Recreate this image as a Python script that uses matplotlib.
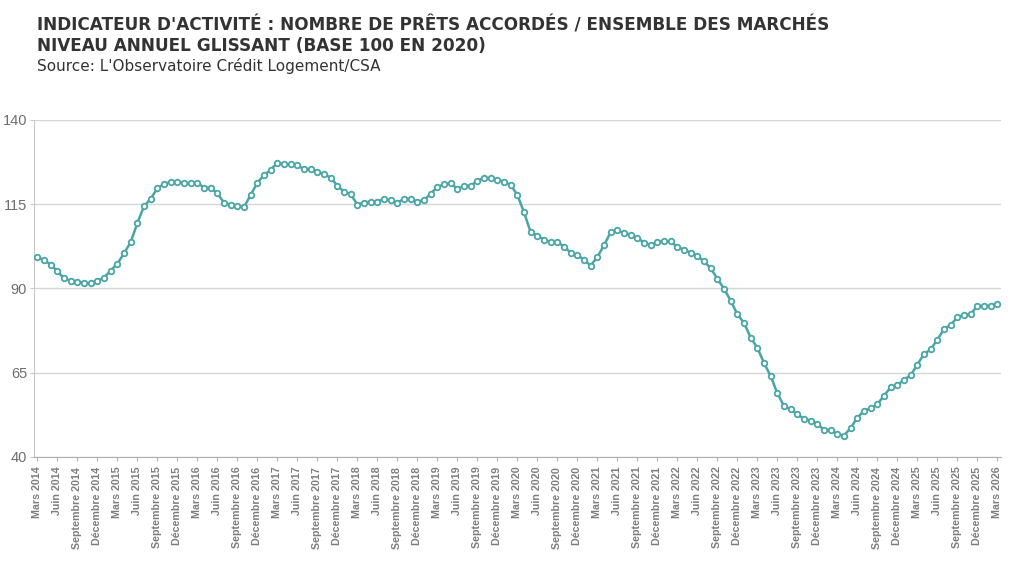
import matplotlib
matplotlib.use("Agg")
import matplotlib.pyplot as plt

# === DONNEES (niveau annuel glissant, base 100 en 2020), mars 2014 -> mars 2026 ===
valeurs = [
    99.3, 98.4, 97.1, 95.1, 93.0, 92.3, 91.9, 91.7, 91.5, 92.2, 93.2, 95.3,
    97.3, 100.4, 103.7, 109.4, 114.4, 116.6, 119.7, 121.0, 121.6, 121.6, 121.4, 121.2,
    121.4, 119.9, 119.9, 118.2, 115.5, 114.8, 114.4, 114.2, 117.7, 121.4, 123.6, 125.2,
    127.3, 126.8, 126.8, 126.5, 125.4, 125.4, 124.7, 123.9, 122.9, 120.5, 118.7, 118.0,
    114.9, 115.5, 115.8, 115.8, 116.5, 116.2, 115.4, 116.6, 116.5, 115.8, 116.2, 118.1,
    120.1, 120.9, 121.2, 119.6, 120.4, 120.5, 121.9, 122.9, 122.7, 122.1, 121.7, 120.7,
    117.8, 112.6, 106.7, 105.6, 104.5, 103.7, 103.8, 102.4, 100.6, 99.9, 98.5, 96.8,
    99.3, 102.8, 106.7, 107.2, 106.4, 106.0, 105.0, 103.6, 102.9, 103.8, 104.0, 104.0,
    102.3, 101.5, 100.6, 99.7, 98.0, 96.0, 92.9, 89.9, 86.4, 82.3, 79.8, 75.4,
    72.4, 67.9, 64.0, 58.9, 55.1, 54.1, 52.7, 51.3, 50.8, 49.8, 48.0, 48.0,
    46.8, 46.3, 48.6, 51.6, 53.7, 54.4, 55.6, 58.2, 60.6, 61.3, 62.9, 64.2,
    67.4, 70.5, 71.9, 74.8, 77.9, 79.2, 81.4, 82.2, 82.3, 84.9, 84.7, 84.9,
    85.5,
]
mois_trimestre = ["Mars", "Juin", "Septembre", "Décembre"]
annees = list(range(2014, 2027))
y_ticks = [40, 65, 90, 115, 140]

# tick labels: one every 3 months, starting Mars 2014
labels = []
for a in annees:
    for m in mois_trimestre:
        labels.append(f"{m} {a}")
labels = labels[:len(valeurs[::3])]
positions = list(range(0, len(valeurs), 3))

COULEUR = "#4aa5a6"
GRIS = "#7d7d7d"

fig = plt.figure(figsize=(10.24, 5.74), dpi=100)
ax = fig.add_axes([0.0332, 0.204, 0.944, 0.587])

x = list(range(len(valeurs)))
ax.plot(x, valeurs, color=COULEUR, linewidth=1.8, marker="o", markersize=4.0,
        markerfacecolor="white", markeredgecolor=COULEUR, markeredgewidth=1.3, zorder=3)

ax.set_xlim(-0.5, len(valeurs) - 0.5)
ax.set_ylim(40, 140)
ax.set_yticks(y_ticks)
ax.set_yticklabels([str(v) for v in y_ticks], fontsize=10.5, color="#6e6e6e",
                   family="Liberation Sans")
ax.set_xticks(positions)
ax.set_xticklabels(labels, rotation=90, fontsize=7.7, fontweight="bold", color=GRIS,
                   family="Liberation Sans")

ax.grid(axis="y", color="#d6d6d6", linewidth=1)
ax.set_axisbelow(True)
for s in ["top", "right"]:
    ax.spines[s].set_visible(False)
ax.spines["left"].set_color("#c8c8c8")
ax.spines["bottom"].set_color("#b0b0b0")
ax.tick_params(axis="y", length=3, color="#c8c8c8", pad=2)
ax.tick_params(axis="x", length=3, color="#b0b0b0", pad=4)

fig.text(0.036, 0.955, "INDICATEUR D'ACTIVITÉ : NOMBRE DE PRÊTS ACCORDÉS / ENSEMBLE DES MARCHÉS",
         fontsize=12.15, fontweight="bold", color="#333333", family="DejaVu Sans", va="center")
fig.text(0.036, 0.92, "NIVEAU ANNUEL GLISSANT (BASE 100 EN 2020)",
         fontsize=12.15, fontweight="bold", color="#333333", family="DejaVu Sans", va="center")
fig.text(0.036, 0.885, "Source: L'Observatoire Crédit Logement/CSA",
         fontsize=11, color="#333333", family="DejaVu Sans", va="center")

fig.savefig("out.png", dpi=100, facecolor="white")
